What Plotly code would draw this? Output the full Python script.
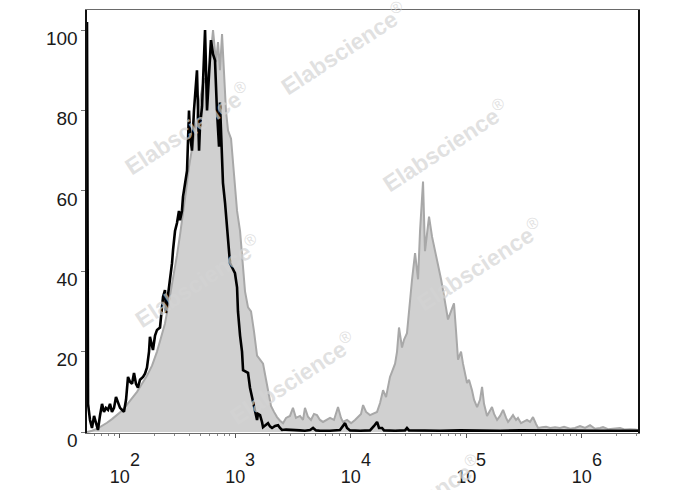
import plotly.graph_objects as go

# log10 fluorescence positions and % of max counts
gray_log = [1.717, 1.760, 1.804, 1.847, 1.890, 1.933, 1.977, 2.020, 2.063, 2.107, 2.150, 2.193,
            2.236, 2.280, 2.323, 2.358, 2.392, 2.418, 2.444, 2.470, 2.496, 2.522, 2.548, 2.574,
            2.600, 2.626, 2.652, 2.678, 2.704, 2.730, 2.756, 2.782, 2.808, 2.834, 2.851, 2.868,
            2.886, 2.903, 2.920, 2.938, 2.964, 2.990, 3.016, 3.042, 3.068, 3.085, 3.111, 3.137,
            3.163, 3.189, 3.215, 3.241, 3.267, 3.284, 3.310, 3.336, 3.362, 3.388, 3.414, 3.440,
            3.474, 3.500, 3.526, 3.561, 3.587, 3.604, 3.630, 3.656, 3.682, 3.708, 3.734, 3.760,
            3.786, 3.821, 3.855, 3.890, 3.916, 3.933, 3.968, 4.003, 4.037, 4.063, 4.089, 4.107,
            4.133, 4.167, 4.193, 4.228, 4.254, 4.280, 4.306, 4.340, 4.358, 4.384, 4.401, 4.418,
            4.444, 4.462, 4.487, 4.513, 4.531, 4.557, 4.583, 4.600, 4.626, 4.643, 4.661, 4.678,
            4.704, 4.730, 4.747, 4.765, 4.782, 4.799, 4.825, 4.842, 4.868, 4.894, 4.912, 4.929,
            4.955, 4.972, 5.007, 5.024, 5.050, 5.068, 5.094, 5.119, 5.137, 5.154, 5.180, 5.197,
            5.223, 5.241, 5.267, 5.293, 5.319, 5.345, 5.362, 5.388, 5.405, 5.431, 5.448, 5.474,
            5.500, 5.526, 5.552, 5.578, 5.604, 5.622, 5.656, 5.691, 5.726, 5.769, 5.812, 5.847,
            5.899, 5.942, 5.985, 6.029, 6.072, 6.115, 6.158, 6.184, 6.228, 6.271, 6.332, 6.375,
            6.418, 6.461, 6.487]
gray_pct = [0.0, 0.3, 0.8, 1.5, 2.3, 3.2, 4.2, 5.3, 6.8, 8.3, 10.0, 12.0,
            14.0, 16.5, 20.0, 23.5, 27.0, 31.0, 35.0, 39.0, 44.0, 49.0, 54.0, 60.0,
            66.0, 70.0, 75.0, 80.0, 84.0, 88.0, 86.0, 92.0, 100.0, 92.0, 97.0, 90.0,
            99.0, 88.0, 80.0, 75.0, 73.0, 64.0, 55.0, 50.0, 40.0, 35.0, 31.0, 30.0,
            25.0, 19.0, 18.0, 17.0, 13.0, 10.5, 6.5, 5.0, 3.7, 2.8, 2.2, 3.5,
            4.0, 6.0, 3.5, 4.0, 3.0, 6.0, 3.8, 3.0, 4.5, 4.2, 3.0, 2.5,
            3.0, 3.5, 3.0, 6.2, 3.5, 2.5, 3.0, 2.2, 3.0, 3.7, 4.5, 6.7,
            5.0, 4.2, 4.5, 5.0, 7.2, 10.4, 8.7, 13.7, 15.0, 17.0, 20.0, 26.0,
            21.0, 23.0, 24.6, 33.0, 38.0, 44.5, 38.0, 50.0, 62.3, 45.0, 50.0, 53.6,
            48.6, 45.3, 43.0, 41.0, 38.0, 35.3, 31.0, 28.0, 30.0, 32.0, 25.0, 18.0,
            20.0, 17.0, 12.2, 13.0, 10.4, 8.0, 6.2, 8.0, 11.2, 7.0, 4.0, 5.0,
            6.2, 4.5, 3.0, 4.0, 5.5, 3.5, 2.5, 3.5, 4.2, 3.0, 3.5, 2.2,
            2.6, 3.0, 2.5, 3.7, 2.0, 1.0, 1.2, 1.3, 1.0, 1.2, 1.0, 1.3,
            0.8, 1.0, 1.5, 1.0, 1.7, 0.8, 1.0, 1.2, 0.7, 0.8, 1.0, 0.6,
            0.7, 0.6, 0.5]

black_log = [1.717, 1.726, 1.743, 1.760, 1.778, 1.795, 1.812, 1.829, 1.847, 1.864, 1.881, 1.899,
             1.916, 1.933, 1.951, 1.968, 1.985, 2.003, 2.020, 2.037, 2.055, 2.072, 2.089, 2.107,
             2.124, 2.141, 2.158, 2.176, 2.202, 2.219, 2.236, 2.254, 2.262, 2.280, 2.288, 2.306,
             2.323, 2.349, 2.366, 2.375, 2.392, 2.401, 2.418, 2.436, 2.453, 2.462, 2.479, 2.496,
             2.513, 2.522, 2.539, 2.548, 2.565, 2.583, 2.591, 2.600, 2.609, 2.626, 2.643, 2.669,
             2.687, 2.695, 2.713, 2.739, 2.756, 2.773, 2.790, 2.808, 2.825, 2.842, 2.860, 2.868,
             2.886, 2.894, 2.912, 2.938, 2.955, 2.981, 2.998, 3.016, 3.024, 3.042, 3.059, 3.068,
             3.094, 3.111, 3.128, 3.146, 3.163, 3.171, 3.189, 3.197, 3.215, 3.232, 3.241, 3.267,
             3.284, 3.301, 3.319, 3.345, 3.371, 3.388, 3.405, 3.440, 3.474, 3.518, 3.561, 3.604,
             3.648, 3.674, 3.700, 3.734, 3.821, 3.907, 3.933, 3.951, 3.968, 3.994, 4.081, 4.167,
             4.202, 4.228, 4.245, 4.271, 4.288, 4.384, 4.470, 4.487, 4.505, 4.600, 4.773, 4.946,
             5.119, 5.293, 5.466, 5.812, 6.158, 6.487]
black_pct = [102.0, 7.0, 3.0, 1.0, 4.0, 2.0, 0.5, 4.0, 7.0, 5.0, 6.0, 5.5,
             7.0, 5.0, 6.0, 8.7, 7.5, 6.0, 5.5, 5.0, 8.0, 13.7, 12.5, 12.0,
             14.7, 12.0, 11.0, 13.0, 13.7, 14.5, 16.0, 20.0, 23.7, 21.5, 20.4, 24.0,
             25.4, 26.0, 30.0, 33.6, 35.3, 29.6, 34.0, 37.8, 42.0, 45.3, 50.0, 52.0,
             55.0, 52.7, 55.0, 58.5, 62.0, 65.0, 72.0, 80.0, 74.0, 70.0, 80.0, 90.0,
             70.0, 76.0, 81.0, 100.0, 80.0, 90.0, 97.5, 94.0, 92.5, 80.0, 71.0, 82.0,
             67.7, 62.0, 57.0, 48.0, 42.0, 40.5, 39.5, 36.0, 30.0, 24.0, 20.0, 15.4,
             15.0, 14.7, 11.0, 8.7, 7.0, 5.5, 3.0, 4.5, 4.2, 2.5, 1.2, 1.8,
             2.2, 1.4, 1.0, 1.5, 1.7, 1.0, 0.5, 0.6, 0.5, 0.4, 0.4, 0.3,
             0.5, 1.0, 0.4, 0.3, 0.3, 0.5, 1.5, 2.2, 1.0, 0.4, 0.3, 0.4,
             1.5, 2.5, 1.0, 1.0, 0.4, 0.3, 0.4, 1.0, 0.4, 0.3, 0.3, 0.4,
             0.3, 0.3, 0.4, 0.3, 0.3, 0.3]

x_tick_exp = [2, 3, 4, 5, 6]
y_ticks = [0, 20, 40, 60, 80, 100]

watermark = "<b>Elabscience</b><sup>®</sup>"
wm_pos = [(0.466, 0.91), (0.183, 0.72), (0.651, 0.68), (0.20, 0.36), (0.713, 0.40),
          (0.373, 0.13), (0.60, -0.16)]

gx = [10 ** v for v in gray_log]
bx = [10 ** v for v in black_log]

fig = go.Figure()
fig.add_trace(go.Scatter(x=gx, y=gray_pct, mode="lines", fill="tozeroy",
                         fillcolor="rgb(208,208,208)",
                         line=dict(color="rgb(168,168,168)", width=2), showlegend=False))
fig.add_trace(go.Scatter(x=bx, y=black_pct, mode="lines",
                         line=dict(color="black", width=2.6), showlegend=False))

for (px, py) in wm_pos:
    fig.add_annotation(x=px, y=py, xref="paper", yref="paper", text=watermark,
                       showarrow=False, textangle=-33, xanchor="center", yanchor="middle",
                       font=dict(family="Liberation Sans, Arial", size=23,
                                 color="rgba(212,212,212,0.7)"))

# exponents of the x tick labels, drawn full size like the reference
for e in x_tick_exp:
    fig.add_annotation(x=e, y=-0.065, xref="x", yref="paper", text=str(e),
                       showarrow=False, xanchor="center", yanchor="middle", xshift=15,
                       font=dict(family="Liberation Sans, Arial", size=18, color="#1a1a1a"))

fig.update_layout(
    width=688, height=490,
    margin=dict(l=87, r=50, t=10, b=57),
    paper_bgcolor="white", plot_bgcolor="white",
    font=dict(family="Liberation Sans, Arial", color="#1a1a1a"),
    hovermode=False,
)
fig.update_xaxes(
    type="log", range=[1.717, 6.487], automargin=False,
    tickvals=[10 ** e for e in x_tick_exp],
    ticktext=["10" for e in x_tick_exp],
    tickfont=dict(size=18, color="#1a1a1a"),
    ticks="outside", ticklen=4, tickcolor="#555", tickwidth=1,
    minor=dict(ticks="outside", ticklen=2, tickcolor="#888", dtick="D1"),
    showgrid=False, zeroline=False,
    showline=True, linecolor="#6a6a6a", linewidth=1.2, mirror=True,
    ticklabelstandoff=23,
)
fig.update_yaxes(
    range=[-0.25, 105], automargin=False,
    tickvals=y_ticks,
    tickfont=dict(size=19, color="#1a1a1a"),
    ticks="outside", ticklen=4, tickcolor="#777", tickwidth=1,
    showgrid=False, zeroline=False,
    showline=True, linecolor="#111", linewidth=1.6, mirror=True,
    ticklabelshift=8,
)
fig.write_html("out.html", config={"displayModeBar": False, "staticPlot": True},
               post_script="document.body.style.margin='0';document.body.style.overflow='hidden';")
